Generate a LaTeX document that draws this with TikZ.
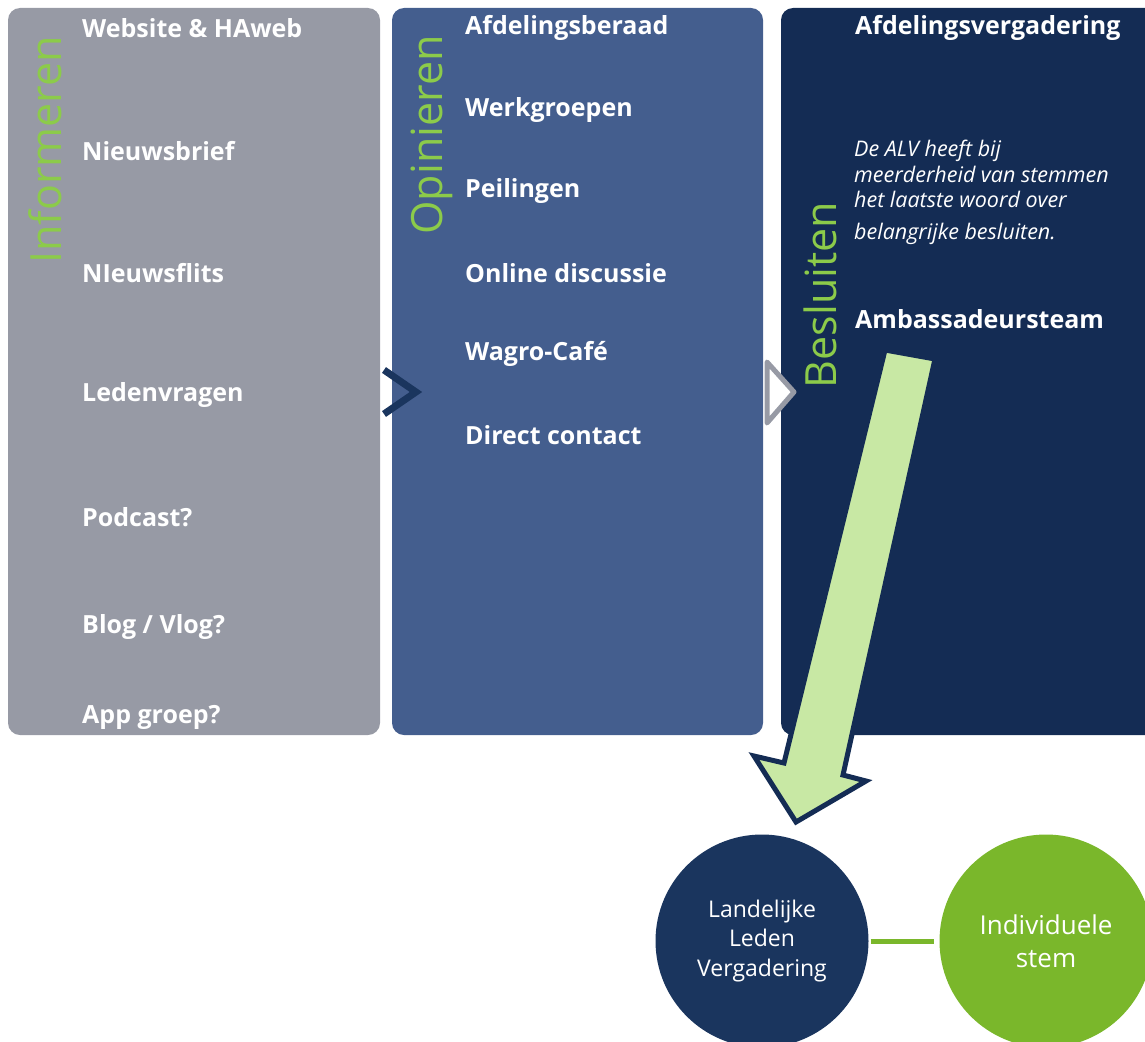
\documentclass[tikz,border=0pt]{standalone}
\usepackage{fontspec}
\setmainfont{Open Sans}
\usepackage{tikz}
\definecolor{pgrey}{HTML}{979AA5}
\definecolor{pblue}{HTML}{445E8E}
\definecolor{pnavy}{HTML}{142C54}
\definecolor{cnavy}{HTML}{1A355E}
\definecolor{lgreen}{HTML}{8CCB4A}
\definecolor{cgreen}{HTML}{7AB72B}
\definecolor{afill}{HTML}{C8E8A4}
\tikzstyle{panel} = [rounded corners=12pt]
\tikzstyle{item} = [anchor=west, inner sep=0pt, text=white, font={\fontsize{25}{28}\selectfont\bfseries}]
\tikzstyle{note} = [anchor=north west, inner sep=0pt, text=white, align=left, font={\fontsize{21.5}{25.5}\selectfont\itshape}]
\tikzstyle{vlabel} = [rotate=90, inner sep=0pt, text=lgreen, font={\fontsize{43}{43}\selectfont}]
\tikzstyle{circ} = [circle, minimum size=213pt, inner sep=0pt, text=white, align=center]

\begin{document}
\begin{tikzpicture}[x=1pt,y=-1pt]
        \useasboundingbox (0,0) rectangle (1145,1041);
        \clip (0,0) rectangle (1145,1041);
        % panels
        \fill[pgrey,panel] (8,8) rectangle (380,735);
        \fill[pblue,panel] (392,8) rectangle (763,735);
        \fill[pnavy,panel] (781,8) rectangle (1160,735);
        % vertical labels
        \node[vlabel](inf) at (45,150){Informeren};
        \node[vlabel](opi) at (432,135){Opinieren};
        \node[vlabel](bes) at (820,295){Besluiten};
        % informeren
        \node[item](web) at (82,28){Website \& HAweb};
        \node[item](brief) at (82,151){Nieuwsbrief};
        \node[item](flits) at (82,273){NIeuwsflits};
        \node[item](vragen) at (82,395){Ledenvragen};
        \node[item](pod) at (82,517){Podcast?};
        \node[item](blog) at (82,627){Blog / Vlog?};
        \node[item](app) at (82,717){App groep?};
        % opinieren
        \node[item](beraad) at (465,28){Afdelingsberaad};
        \node[item](werk) at (465,110){Werkgroepen};
        \node[item](peil) at (465,191){Peilingen};
        \node[item](disc) at (465,273){Online discussie};
        \node[item](cafe) at (465,354){Wagro-Café};
        \node[item](contact) at (465,435){Direct contact};
        % besluiten
        \node[item](verg) at (855,28){Afdelingsvergadering};
        \node[note](alv) at (854,140){De ALV heeft bij\\meerderheid van stemmen\\het laatste woord over\\[6pt]belangrijke besluiten.};
        \node[item](amb) at (855,319){Ambassadeursteam};
        % chevrons
        \draw[cnavy,line width=7pt,miter limit=10](384,370)--(416,392)--(384,414);
        \draw[pgrey,fill=white,line width=5pt,line join=round](767,362)--(794,392)--(767,423)--cycle;
        % big arrow
        \draw[pnavy,fill=afill,line width=5pt,miter limit=10]
          (885,350)--(935,359)--(843,775)--(866,781)--(796,822)--(754,756)--(784,763)--cycle;
        % circles
        \node[circ,fill=cnavy,font={\fontsize{23}{29.5}\selectfont}](llv) at (762,941){Landelijke\\Leden\\Vergadering};
        \node[circ,fill=cgreen,font={\fontsize{26}{33}\selectfont}](stem) at (1046,941){Individuele\\stem};
        \draw[cgreen,line width=5pt,shorten <=2pt,shorten >=5pt](llv)--(stem);
      \end{tikzpicture}
\end{document}
